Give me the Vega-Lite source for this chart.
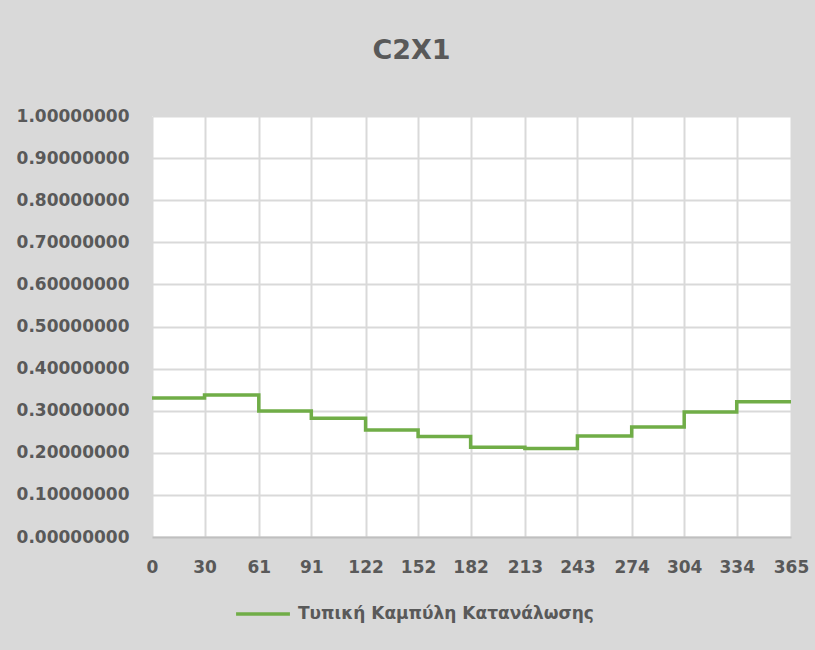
{
  "$schema": "https://vega.github.io/schema/vega-lite/v6.json",
  "width": 639,
  "height": 421,
  "autosize": {"type": "none"},
  "padding": {"left": 152, "top": 116, "right": 24, "bottom": 113},
  "background": "#d9d9d9",
  "title": {
    "text": "C2X1",
    "font": "DejaVu Sans",
    "fontSize": 27,
    "fontWeight": "bold",
    "color": "#595959",
    "anchor": "middle",
    "frame": "group",
    "dx": -60,
    "offset": 42
  },
  "config": {
    "view": {"fill": "white", "stroke": null},
    "axis": {
      "labelFont": "DejaVu Sans",
      "labelFontSize": 17,
      "labelFontWeight": "bold",
      "labelColor": "#595959",
      "gridColor": "#d9d9d9",
      "gridWidth": 2,
      "ticks": false,
      "title": null
    },
    "legend": {
      "labelFont": "DejaVu Sans",
      "labelFontSize": 17,
      "labelFontWeight": "bold",
      "labelColor": "#595959",
      "labelLimit": 0
    }
  },
  "data": {
    "values": [
      {"day": 0, "value": 0.330, "series": "Τυπική Καμπύλη Κατανάλωσης"},
      {"day": 30, "value": 0.337, "series": "Τυπική Καμπύλη Κατανάλωσης"},
      {"day": 61, "value": 0.299, "series": "Τυπική Καμπύλη Κατανάλωσης"},
      {"day": 91, "value": 0.282, "series": "Τυπική Καμπύλη Κατανάλωσης"},
      {"day": 122, "value": 0.254, "series": "Τυπική Καμπύλη Κατανάλωσης"},
      {"day": 152, "value": 0.239, "series": "Τυπική Καμπύλη Κατανάλωσης"},
      {"day": 182, "value": 0.213, "series": "Τυπική Καμπύλη Κατανάλωσης"},
      {"day": 213, "value": 0.210, "series": "Τυπική Καμπύλη Κατανάλωσης"},
      {"day": 243, "value": 0.240, "series": "Τυπική Καμπύλη Κατανάλωσης"},
      {"day": 274, "value": 0.261, "series": "Τυπική Καμπύλη Κατανάλωσης"},
      {"day": 304, "value": 0.297, "series": "Τυπική Καμπύλη Κατανάλωσης"},
      {"day": 334, "value": 0.321, "series": "Τυπική Καμπύλη Κατανάλωσης"},
      {"day": 365, "value": 0.321, "series": "Τυπική Καμπύλη Κατανάλωσης"}
    ]
  },
  "mark": {"type": "line", "interpolate": "step-after", "strokeWidth": 3.5},
  "encoding": {
    "x": {
      "field": "day",
      "type": "quantitative",
      "scale": {"domain": [0, 365], "nice": false, "zero": false},
      "axis": {
        "values": [0, 30, 61, 91, 122, 152, 182, 213, 243, 274, 304, 334, 365],
        "format": "d",
        "domainColor": "#bfbfbf",
        "domainWidth": 2,
        "labelPadding": 22,
        "labelOverlap": false,
        "labelFlush": false
      }
    },
    "y": {
      "field": "value",
      "type": "quantitative",
      "scale": {"domain": [0, 1], "nice": false},
      "axis": {
        "values": [0, 0.1, 0.2, 0.3, 0.4, 0.5, 0.6, 0.7, 0.8, 0.9, 1.0],
        "format": ".8f",
        "domain": false,
        "labelPadding": 23
      }
    },
    "color": {
      "field": "series",
      "type": "nominal",
      "scale": {"range": ["#70ad47"]},
      "legend": {
        "title": null,
        "orient": "none",
        "legendX": 82,
        "legendY": 469,
        "symbolType": "stroke",
        "symbolSize": 2900,
        "symbolStrokeWidth": 3.5,
        "labelOffset": 6
      }
    }
  }
}
